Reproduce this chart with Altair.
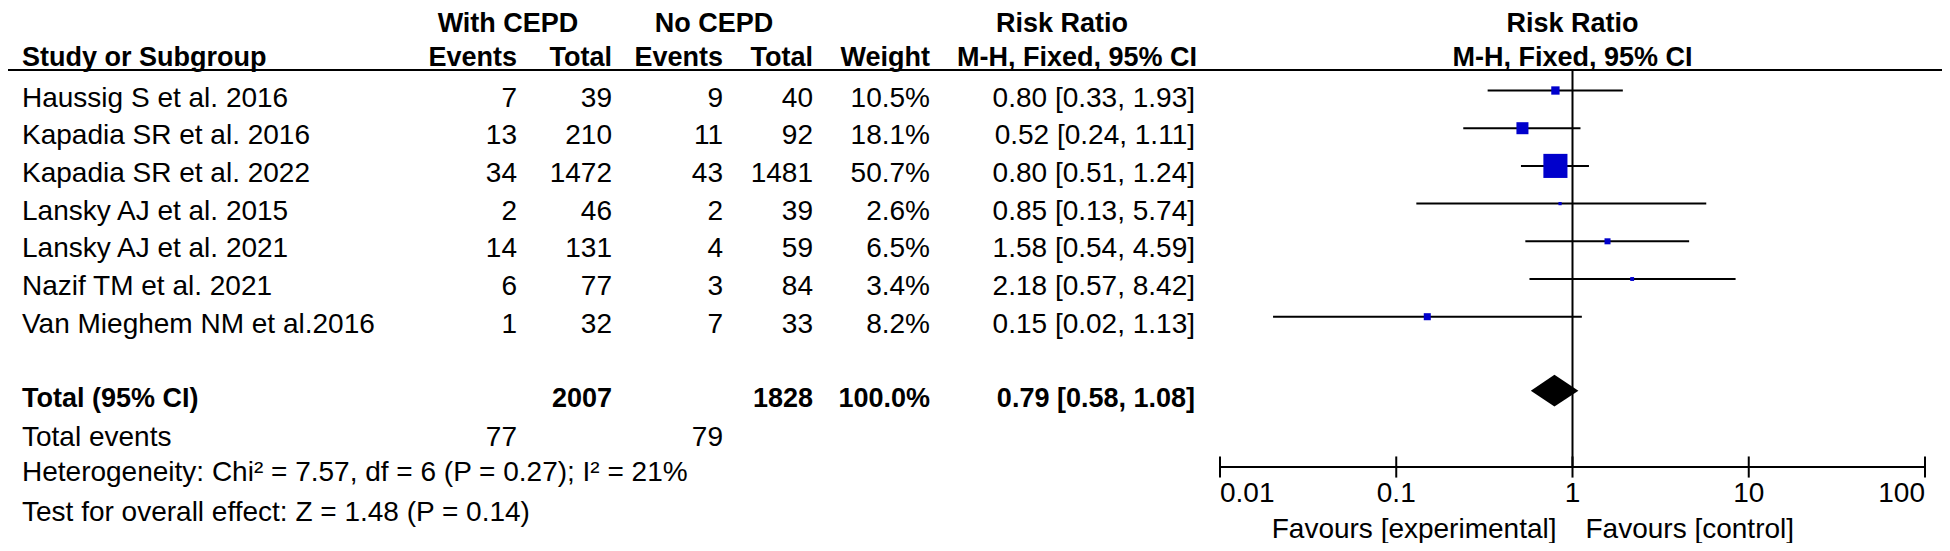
import altair as alt
import pandas as pd

# ---------------- data ----------------
studies = ["Haussig S et al. 2016", "Kapadia SR et al. 2016", "Kapadia SR et al. 2022",
           "Lansky AJ et al. 2015", "Lansky AJ et al. 2021", "Nazif TM et al. 2021",
           "Van Mieghem NM et al.2016"]
exp_events = [7, 13, 34, 2, 14, 6, 1]
exp_total = [39, 210, 1472, 46, 131, 77, 32]
ctl_events = [9, 11, 43, 2, 4, 3, 7]
ctl_total = [40, 92, 1481, 39, 59, 84, 33]
weights = [10.5, 18.1, 50.7, 2.6, 6.5, 3.4, 8.2]
rr = [0.80, 0.52, 0.80, 0.85, 1.58, 2.18, 0.15]
rr_lo = [0.33, 0.24, 0.51, 0.13, 0.54, 0.57, 0.02]
rr_hi = [1.93, 1.11, 1.24, 5.74, 4.59, 8.42, 1.13]

total_label = "Total (95% CI)"
total_exp = 2007
total_ctl = 1828
total_weight = "100.0%"
pooled = [0.58, 0.79, 1.08]          # lower, estimate, upper
events_label = "Total events"
events_exp = 77
events_ctl = 79
het_text = "Heterogeneity: Chi\u00b2 = 7.57, df = 6 (P = 0.27); I\u00b2 = 21%"
overall_text = "Test for overall effect: Z = 1.48 (P = 0.14)"
tick_values = [0.01, 0.1, 1, 10, 100]
tick_labels = ["0.01", "0.1", "1", "10", "100"]
fav_left = "Favours [experimental]"
fav_right = "Favours [control]"

# ---------------- layout ----------------
FONT = "Liberation Sans, Arial, Helvetica, sans-serif"
FS = 28
FSB = 27
W, H = 1934, 535
OFF = 8  # page margin

def px(page_x):
    return page_x - OFF

ROW_TOP = 98.5 - OFF
STEP = 37.7
yscale = alt.Scale(domain=[0, 10], range=[ROW_TOP, ROW_TOP + 10 * STEP], zero=False, nice=False)
xscale = alt.Scale(type="log", domain=[0.01, 100], range=[px(1220), px(1925)], nice=False)

R_H1, R_H2, R_LINE = -1.97, -1.07, -0.756
R_TOTAL, R_DIAM = 7.96, 7.75
R_EVENTS, R_HET, R_TEST = 9.0, 9.93, 10.99
R_AXIS, R_TICKLAB, R_FAV = 9.775, 10.49, 11.45
FOREST_SHIFT = 0.212
TICK_HALF = 0.28
DIAM_HALF = 0.42

study_df = pd.DataFrame({
    "name": studies,
    "ee": [str(v) for v in exp_events],
    "et": [str(v) for v in exp_total],
    "ce": [str(v) for v in ctl_events],
    "ct": [str(v) for v in ctl_total],
    "w": weights,
    "wtxt": [f"{v:.1f}%" for v in weights],
    "rr": rr, "lo": rr_lo, "hi": rr_hi,
    "rrtxt": [f"{a:.2f} [{b:.2f}, {c:.2f}]" for a, b, c in zip(rr, rr_lo, rr_hi)],
    "row": list(range(len(studies))),
})

Y = lambda f="row": alt.Y(f"{f}:Q", scale=yscale, axis=None)


def col_text(field, x_page, align, bold=False):
    return alt.Chart(study_df).mark_text(
        align=align, baseline="middle", font=FONT,
        fontSize=FSB if bold else FS, fontWeight="bold" if bold else "normal", color="black"
    ).encode(x=alt.value(px(x_page)), y=Y(), text=f"{field}:N")


def cell(text, x_page, row, align, bold=False):
    d = pd.DataFrame({"t": [text], "row": [row]})
    return alt.Chart(d).mark_text(
        align=align, baseline="middle", font=FONT,
        fontSize=FSB if bold else FS, fontWeight="bold" if bold else "normal", color="black"
    ).encode(x=alt.value(px(x_page)), y=Y(), text="t:N")


layers = []

# header
X_NAME = 22
X_EE, X_ET, X_CE, X_CT, X_W, X_RR = 517, 612, 723, 813, 930, 1195
layers += [
    cell("With CEPD", 508, R_H1, "center", True),
    cell("No CEPD", 714, R_H1, "center", True),
    cell("Risk Ratio", 1062, R_H1, "center", True),
    cell("Study or Subgroup", X_NAME, R_H2, "left", True),
    cell("Events", X_EE, R_H2, "right", True),
    cell("Total", X_ET, R_H2, "right", True),
    cell("Events", X_CE, R_H2, "right", True),
    cell("Total", X_CT, R_H2, "right", True),
    cell("Weight", X_W, R_H2, "right", True),
    cell("M-H, Fixed, 95% CI", X_RR + 2, R_H2, "right", True),
]

# forest header, centred on RR = 1
fh = pd.DataFrame({"t": ["Risk Ratio", "M-H, Fixed, 95% CI"], "row": [R_H1, R_H2], "x": [1, 1]})
layers.append(alt.Chart(fh).mark_text(align="center", baseline="middle", font=FONT,
                                      fontSize=FSB, fontWeight="bold", color="black")
              .encode(x=alt.X("x:Q", scale=xscale, axis=None), y=Y(), text="t:N"))

# header rule
hl = pd.DataFrame({"row": [R_LINE]})
layers.append(alt.Chart(hl).mark_rule(color="black", strokeWidth=2)
              .encode(x=alt.value(0), x2=alt.value(W), y=Y()))

# study rows
layers += [
    col_text("name", X_NAME, "left"),
    col_text("ee", X_EE, "right"),
    col_text("et", X_ET, "right"),
    col_text("ce", X_CE, "right"),
    col_text("ct", X_CT, "right"),
    col_text("wtxt", X_W, "right"),
    col_text("rrtxt", X_RR, "right"),
]

# totals
pooled_txt = f"{pooled[1]:.2f} [{pooled[0]:.2f}, {pooled[2]:.2f}]"
layers += [
    cell(total_label, X_NAME, R_TOTAL, "left", True),
    cell(str(total_exp), X_ET, R_TOTAL, "right", True),
    cell(str(total_ctl), X_CT, R_TOTAL, "right", True),
    cell(total_weight, X_W, R_TOTAL, "right", True),
    cell(pooled_txt, X_RR, R_TOTAL, "right", True),
    cell(events_label, X_NAME, R_EVENTS, "left"),
    cell(str(events_exp), X_EE, R_EVENTS, "right"),
    cell(str(events_ctl), X_CE, R_EVENTS, "right"),
    cell(het_text, X_NAME, R_HET, "left"),
    cell(overall_text, X_NAME, R_TEST, "left"),
]

# forest: vertical line of no effect
vl = pd.DataFrame({"x": [1], "row": [R_LINE], "row2": [R_AXIS]})
layers.append(alt.Chart(vl).mark_rule(color="black", strokeWidth=2)
              .encode(x=alt.X("x:Q", scale=xscale, axis=None), y=Y(), y2="row2:Q"))

# CIs
forest = alt.Chart(study_df).transform_calculate(frow=f"datum.row - {FOREST_SHIFT}")
layers.append(forest.mark_rule(color="black", strokeWidth=2)
              .encode(x=alt.X("lo:Q", scale=xscale, axis=None), x2="hi:Q", y=Y("frow")))
layers.append(forest.mark_square(color="#0000CC", opacity=1)
              .encode(x=alt.X("rr:Q", scale=xscale, axis=None), y=Y("frow"),
                      size=alt.Size("w:Q", scale=alt.Scale(type="pow", exponent=1.35,
                                                           domain=[0, 50.7], range=[0, 580]),
                                    legend=None)))

# diamond
dd = pd.DataFrame({"x": pooled, "ya": [R_DIAM, R_DIAM - DIAM_HALF, R_DIAM],
                   "yb": [R_DIAM, R_DIAM + DIAM_HALF, R_DIAM]})
layers.append(alt.Chart(dd).mark_area(color="black", opacity=1, line=False)
              .encode(x=alt.X("x:Q", scale=xscale, axis=None),
                      y=alt.Y("ya:Q", scale=yscale, axis=None), y2="yb:Q"))

# axis
ax = pd.DataFrame({"x": [tick_values[0]], "x2": [tick_values[-1]], "row": [R_AXIS]})
layers.append(alt.Chart(ax).mark_rule(color="black", strokeWidth=2)
              .encode(x=alt.X("x:Q", scale=xscale, axis=None), x2="x2:Q", y=Y()))
tk = pd.DataFrame({"x": tick_values, "row": [R_AXIS - TICK_HALF] * 5, "row2": [R_AXIS + TICK_HALF] * 5,
                   "lab": tick_labels, "lrow": [R_TICKLAB] * 5})
layers.append(alt.Chart(tk).mark_rule(color="black", strokeWidth=2)
              .encode(x=alt.X("x:Q", scale=xscale, axis=None), y=Y(), y2="row2:Q"))
for align, sel in [("left", [0]), ("center", [1, 2, 3]), ("right", [4])]:
    layers.append(alt.Chart(tk.iloc[sel]).mark_text(align=align, baseline="middle", font=FONT,
                                                     fontSize=FS, color="black")
                  .encode(x=alt.X("x:Q", scale=xscale, axis=None), y=Y("lrow"), text="lab:N"))

fav = pd.DataFrame({"x": [1], "row": [R_FAV], "a": [fav_left], "b": [fav_right]})
layers.append(alt.Chart(fav).mark_text(align="right", baseline="middle", font=FONT, fontSize=FS,
                                       color="black", dx=-16)
              .encode(x=alt.X("x:Q", scale=xscale, axis=None), y=Y(), text="a:N"))
layers.append(alt.Chart(fav).mark_text(align="left", baseline="middle", font=FONT, fontSize=FS,
                                       color="black", dx=13)
              .encode(x=alt.X("x:Q", scale=xscale, axis=None), y=Y(), text="b:N"))

chart = alt.layer(*layers).properties(
    width=W, height=H, padding=0, autosize=alt.AutoSizeParams(type="none"), background="white"
).configure_view(stroke=None)

chart.save("out.html", embed_options={"renderer": "svg", "actions": False})
